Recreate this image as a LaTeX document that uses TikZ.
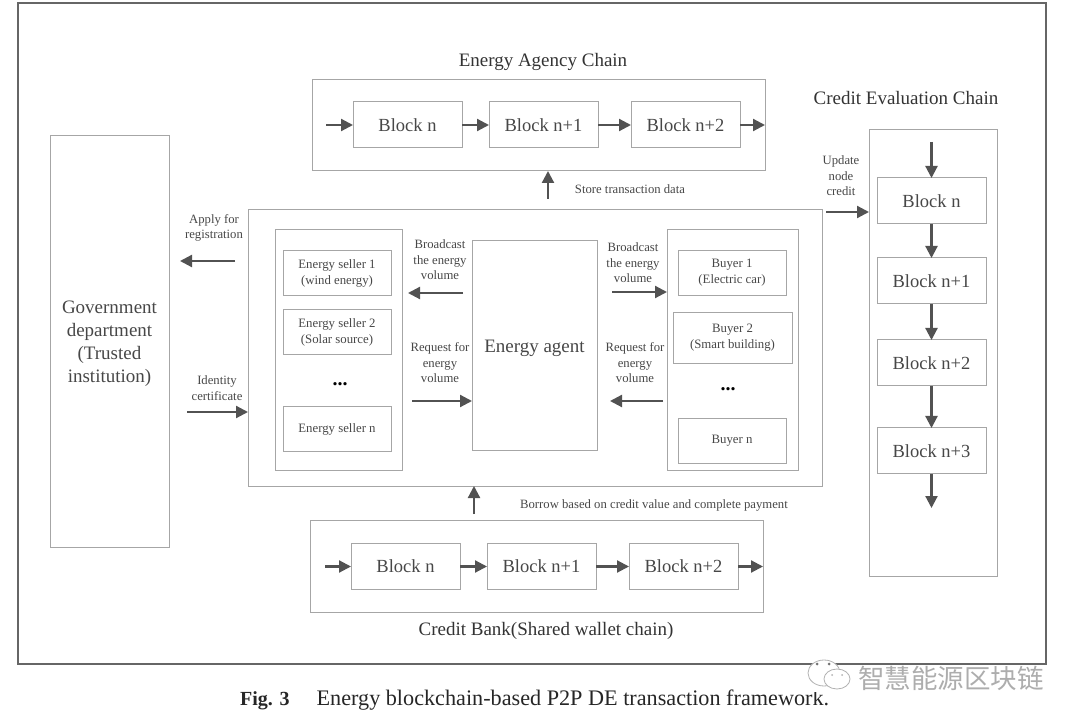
\documentclass[tikz,border=0pt]{standalone}
\usepackage{fontspec}
\setmainfont{Liberation Serif}
\newfontfamily\cjk{Noto Sans CJK SC}
\usetikzlibrary{positioning}
\usetikzlibrary{arrows.meta}
\colorlet{Frame}{black!60}
\colorlet{Edge}{black!35}
\colorlet{Ink}{black!72}
\colorlet{Pointer}{black!68}
\tikzset{
  box/.style={draw=Edge, line width=1pt, inner sep=0pt, outer sep=0pt, text=Ink},
  blockbox/.style={box, minimum width=109pt, minimum height=46pt, font=\fontsize{18.5}{20}\selectfont},
  partybox/.style={box, minimum width=108pt, minimum height=45pt, align=center, font=\fontsize{12.8}{16}\selectfont},
  note/.style={text=Ink, align=center, inner sep=0pt, font=\fontsize{12.7}{15.5}\selectfont},
  heading/.style={text=black!80, inner sep=0pt, font=\fontsize{19}{21}\selectfont},
  pointer/.style={draw=Pointer, line width=2.2pt, -{Triangle[length=12pt,width=12pt]}},
}
\begin{document}
\begin{tikzpicture}[x=1pt,y=-1pt]
        \useasboundingbox (0,0) rectangle (1080,711);
        % outer frame
        \node[draw=Frame, line width=2pt, minimum width=1028pt, minimum height=661pt, inner sep=0pt] (Frame) at (532,333.5) {};

        % government
        \node[box, minimum width=119pt, minimum height=411pt] (Gov) at (109.5,341.5) {};
        \node[text=Ink, inner sep=0pt, align=center, font=\fontsize{19}{23}\selectfont] (GovText) at (109.5,344) {Government\\department\\(Trusted\\institution)};

        % energy agency chain
        \node[box, minimum width=453pt, minimum height=91pt] (Agency) at (538.5,125.5) {};
        \node[blockbox] (A1) at (407.5,125) {Block n};
        \node[blockbox, right=27pt of A1] (A2) {Block n+1};
        \node[blockbox, right=33pt of A2] (A3) {Block n+2};
        \node[heading] (AgencyTitle) at (543,62) {Energy Agency Chain};
        \coordinate (Ain) at (326,125);
        \coordinate (Aout) at (765,125);

        % credit evaluation chain
        \node[box, minimum width=128pt, minimum height=446pt] (Eval) at (933,353) {};
        \node[blockbox] (E1) at (931.5,201) {Block n};
        \node[blockbox, below=34pt of E1] (E2) {Block n+1};
        \node[blockbox, below=36pt of E2] (E3) {Block n+2};
        \node[blockbox, below=42pt of E3] (E4) {Block n+3};
        \node[heading] (EvalTitle) at (906,98) {Credit Evaluation Chain};
        \coordinate (Ein) at (931.5,142);
        \coordinate (Eout) at (931.5,508);

        % middle part
        \node[box, minimum width=574pt, minimum height=276pt] (Market) at (535,348) {};
        \node[box, minimum width=127pt, minimum height=241pt] (Sellers) at (338.5,350.5) {};
        \node[partybox] (S1) at (337,273) {Energy seller 1\\(wind energy)};
        \node[partybox, below=14pt of S1] (S2) {Energy seller 2\\(Solar source)};
        \node[partybox, below=52pt of S2] (Sn) {Energy seller n};
        \node[text=black, inner sep=0pt, font=\fontsize{20}{20}\bfseries\selectfont] (Sdots) at (340,384) {...};
        \node[box, minimum width=125pt, minimum height=210pt] (Agent) at (534.5,346) {};
        \node[text=Ink, inner sep=0pt, font=\fontsize{19}{21}\selectfont] (AgentText) at (534.5,348) {Energy agent};
        \node[box, minimum width=131pt, minimum height=241pt] (Buyers) at (732.5,350.5) {};
        \node[partybox] (B1) at (732,273) {Buyer 1\\(Electric car)};
        \node[partybox, minimum width=119pt, minimum height=51pt] (B2) at (732.5,338) {Buyer 2\\(Smart building)};
        \node[partybox] (Bn) at (732,441) {Buyer n};
        \node[text=black, inner sep=0pt, font=\fontsize{20}{20}\bfseries\selectfont] (Bdots) at (728,389) {...};

        % credit bank chain
        \node[box, minimum width=453pt, minimum height=92pt] (Bank) at (536.5,566) {};
        \node[blockbox] (C1) at (405.5,566.5) {Block n};
        \node[blockbox, right=27pt of C1] (C2) {Block n+1};
        \node[blockbox, right=33pt of C2] (C3) {Block n+2};
        \node[heading] (BankTitle) at (546,631) {Credit Bank(Shared wallet chain)};
        \coordinate (Cin) at (325,566.5);
        \coordinate (Cout) at (763,566.5);

        % labels
        \node[note] (Lstore) at (630,189) {Store transaction data};
        \node[note] (Lborrow) at (654,505) {Borrow based on credit value and complete payment};
        \node[note] (Lupdate) at (841,176) {Update\\node\\credit};
        \node[note] (Lapply) at (214,228) {Apply for\\registration};
        \node[note] (Lident) at (217,388) {Identity\\certificate};
        \node[note] (Lbl) at (440,260) {Broadcast\\the energy\\volume};
        \node[note] (Lrl) at (440,363) {Request for\\energy\\volume};
        \node[note] (Lbr) at (633,263) {Broadcast\\the energy\\volume};
        \node[note] (Lrr) at (635,363) {Request for\\energy\\volume};

        % free ends of the arrows
        \coordinate (Pstore) at (548,199);
        \coordinate (Pborrow) at (474,514);
        \coordinate (Pupdate) at (826,212);
        \coordinate (Papply) at (235,261);
        \coordinate (Gapply) at (180,261);
        \coordinate (Pident) at (187,412);
        \coordinate (Pbl) at (463,293);
        \coordinate (Gbl) at (408,293);
        \coordinate (Prl) at (412,401);
        \coordinate (Pbr) at (612,292);
        \coordinate (Prr) at (663,401);
        \coordinate (Grr) at (610,401);

        % chain edges
        \draw[pointer] (Ain) -- (A1);
        \draw[pointer] (A1) -- (A2);
        \draw[pointer] (A2) -- (A3);
        \draw[pointer] (A3) -- (Aout);
        \draw[pointer] (Cin) -- (C1);
        \draw[pointer] (C1) -- (C2);
        \draw[pointer] (C2) -- (C3);
        \draw[pointer] (C3) -- (Cout);
        \draw[pointer] (Ein) -- (E1);
        \draw[pointer] (E1) -- (E2);
        \draw[pointer] (E2) -- (E3);
        \draw[pointer] (E3) -- (E4);
        \draw[pointer] (E4) -- (Eout);

        % other edges
        \draw[pointer] (Pstore) -- (Pstore |- Agency.south);
        \draw[pointer] (Pborrow) -- (Pborrow |- Market.south);
        \draw[pointer] (Pupdate) -- (Pupdate -| Eval.west);
        \draw[pointer] (Papply) -- (Gapply);
        \draw[pointer] (Pident) -- (Pident -| Market.west);
        \draw[pointer] (Pbl) -- (Gbl);
        \draw[pointer] (Prl) -- (Prl -| Agent.west);
        \draw[pointer] (Pbr) -- (Pbr -| Buyers.west);
        \draw[pointer] (Prr) -- (Grr);

        % caption
        \node[text=black!85, anchor=west, inner sep=0pt, font=\fontsize{22.2}{24}\selectfont] (Caption) at (240,700) {{\fontsize{20}{24}\selectfont\textbf{Fig. 3}}\hspace{27pt}Energy blockchain-based P2P DE transaction framework.};

        % watermark
        \fill[white] (800,666) rectangle (1050,692);
        \draw[draw=black!30, fill=white, line width=.8pt] (824,673) ellipse (16pt and 13pt);
        \draw[draw=black!30, fill=white, line width=.8pt] (837,679) ellipse (13pt and 10pt);
        \fill[black!55] (817,664) circle (1.5pt) (829,664) circle (1.5pt);
        \fill[black!30] (832,675) circle (1pt) (842,675) circle (1pt);
        \node[text=black!32, inner sep=0pt, font=\fontsize{26.5}{28}\cjk] (Mark) at (951,678) {智慧能源区块链};
   \end{tikzpicture}
\end{document}
